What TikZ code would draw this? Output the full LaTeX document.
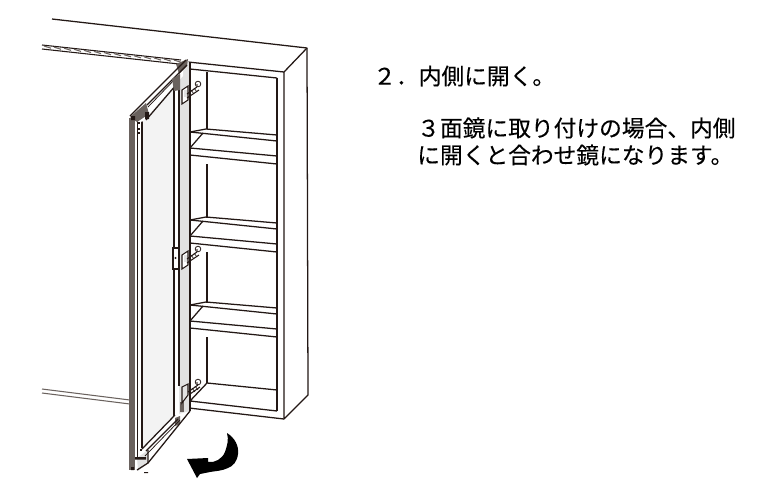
\documentclass[tikz,border=0pt]{standalone}
\usepackage{fontspec}
\newfontfamily\jpfont[FakeBold=0.25]{Noto Sans CJK JP}
\definecolor{edgegrey}{HTML}{6A625E}
\definecolor{mirror}{HTML}{F3F3F3}
\definecolor{strip}{HTML}{E2E2E2}
\definecolor{ink}{HTML}{231815}
\tikzset{
  cab/.style={draw=ink,line width=0.95pt,line join=round},
  thin/.style={draw=ink,line width=0.55pt,line join=round},
  rail/.style={draw=ink,line width=0.8pt},
  note/.style={font=\jpfont\fontsize{17.05pt}{20pt}\selectfont,anchor=west,inner sep=0pt,text=black}
}
\begin{document}
\begin{tikzpicture}[x=0.75pt,y=-0.75pt]
\useasboundingbox[fill=white] (0,0) rectangle (774,490);
% cabinet outline
\draw[cab] (52,19) -- (307,48) -- (308,395) -- (284,419) -- (284,72) -- (188,62);
\draw[cab] (284,72) -- (307,48);
\draw[cab] (277,78) -- (277,411);
\draw[cab] (190,69) -- (277,78);
\draw[cab] (207,72) -- (207,129);
\draw[cab] (207,164) -- (207,218) (207,252) -- (207,303) (207,337) -- (207,383);
\draw[cab] (207,383) -- (277,390);
\draw[cab] (207,383) -- (190,401) -- (277,411);
\draw[cab] (189,408) -- (284,419);
% shelves
\foreach \y/\d in {129/0,217/88,302/173}{
  \draw[cab] (206,\y) -- (277,\y+6);
  \draw[cab] (190,\y+3) -- (277,\y+12);
  \draw[cab] (190,\y+19) -- (277,\y+27);
  \draw[cab] (190,\y+26) -- (277,\y+35);
  \draw[cab] (190,\y+19) -- (203,\y+4);
  \draw[cab] (190,\y+3) -- (206,\y);
}
% wall rails
\draw[rail] (42,45) -- (181,60) (42,49) -- (179,64);
\foreach \i in {0,...,13}{\draw[edgegrey,line width=0.8pt] (44+\i*10,46+\i*1.08) -- ++(7,2.2);}
\draw[rail,draw=edgegrey] (42,389) -- (130,400) (42,393) -- (130,404);
% door leaf
\fill[white] (130,116) -- (188,60) -- (190,68) -- (190,411) -- (148,464) -- (130,470) -- cycle;
\fill[strip] (179,74) -- (188,62) -- (190,66) -- (190,412) -- (179,424) -- cycle;
\fill[mirror] (142,121) -- (174,83) -- (174,415) -- (142,448) -- cycle;
\fill[edgegrey] (129,118) rectangle (135,470);
\draw[thin] (137,116) -- (137,458);
\draw[cab] (142,121) -- (142,448);
\draw[cab] (174,83) -- (174,416);
\draw[cab] (179,75) -- (179,248) (179,269) -- (179,386);
\draw[cab] (190,62) -- (190,411);
% top of door
\fill[white] (137,118) -- (183,68) -- (183,76) -- (142,122) -- cycle;
\fill[edgegrey] (130,117) -- (146,103) -- (149,114) -- (137,122) -- cycle;
\fill[edgegrey] (176,64) -- (188,59) -- (187,66) -- (179,74) -- cycle;
\draw[cab] (130,116) -- (186,60);
\draw[cab] (147,105) -- (187,65);
\draw[thin] (148,107) -- (178,76);
\draw[cab] (146,120) -- (176,85);
\fill[edgegrey] (172,79) -- (180,74) -- (180,90) -- (174,91) -- cycle;
\fill[ink] (131,116) rectangle (135,120) (145,112) rectangle (149,119);
\foreach \y in {122,128,132}{\fill[ink] (138,\y) rectangle (140,\y+1.6);}
% bottom of door
\fill[white] (137,458) -- (175,415) -- (190,411) -- (148,464) -- (137,470) -- cycle;
\fill[strip] (137,458) -- (148,450) -- (148,463) -- (138,471) -- cycle;
\fill[edgegrey] (175,418) -- (180,416) -- (180,424) -- (175,426) -- cycle;
\draw[cab] (142,449) -- (175,415);
\draw[cab] (146,451) -- (178,419);
\draw[thin] (145,456) -- (180,420);
\draw[cab] (148,463) -- (190,411);
\draw[cab] (137,470) -- (148,463) -- (148,450);
\fill[ink] (135,457) rectangle (146,459.5) (131,467) rectangle (134,470) (144,472) rectangle (148,473);
\fill[ink] (140,449) rectangle (142,451);
\fill[edgegrey] (180,402) rectangle (184,412);
% hinges
\foreach \y in {0,165}{
  \filldraw[fill=white,draw=ink,line width=0.8pt] (182,90+\y) -- (188,86+\y) -- (188,100+\y) -- (182,104+\y) -- cycle;
  \fill[strip] (184,90+\y) rectangle (187,97+\y);
  \draw[ink,line width=0.8pt] (187,94+\y) -- (197,87+\y);
  \draw[ink,line width=0.8pt] (187,98+\y) -- (199,90+\y);
  \draw[ink,line width=0.5pt] (191,90+\y) -- (194,94+\y) (194,88+\y) -- (197,92+\y);
  \draw[ink,line width=0.6pt] (198,84+\y) circle (2.8);
  \fill[edgegrey] (197,85+\y) circle (1.2);
}
\filldraw[fill=strip,draw=ink,line width=0.8pt] (182,387) -- (188,384) -- (188,395) -- (182,403) -- cycle;
\draw[ink,line width=0.8pt] (188,392) -- (198,385);
\draw[ink,line width=0.8pt] (190,394) -- (200,387);
\draw[ink,line width=0.5pt] (192,388) -- (195,392) (195,386) -- (198,390);
\draw[ink,line width=0.6pt] (198,382) circle (2.8);
\fill[edgegrey] (197,383) circle (1.2);
% door latch
\filldraw[fill=white,draw=ink,line width=1pt] (173,248) -- (179,248) -- (179,269) -- (173,269) -- cycle;
\fill[ink] (175.5,258) circle (1.1);
% arrow
\fill[black] (227,433) .. controls (235,438) and (239,446) .. (238,454)
  .. controls (237,462) and (233,466) .. (228,468)
  .. controls (222,471) and (215,471) .. (210,472)
  -- (200,474) -- (197,478) -- (187,459) -- (208,458) -- (208,462)
  .. controls (215,463) and (222,459) .. (225,452)
  .. controls (227,446) and (229,440) .. (227,433) -- cycle;
% text
\node[note] (t1) at (373,76) {２．内側に開く。};
\node[note] (t2) at (417,128) {３面鏡に取り付けの場合、内側};
\node[note] (t3) at (417,155) {に開くと合わせ鏡になります。};
\end{tikzpicture}
\end{document}
